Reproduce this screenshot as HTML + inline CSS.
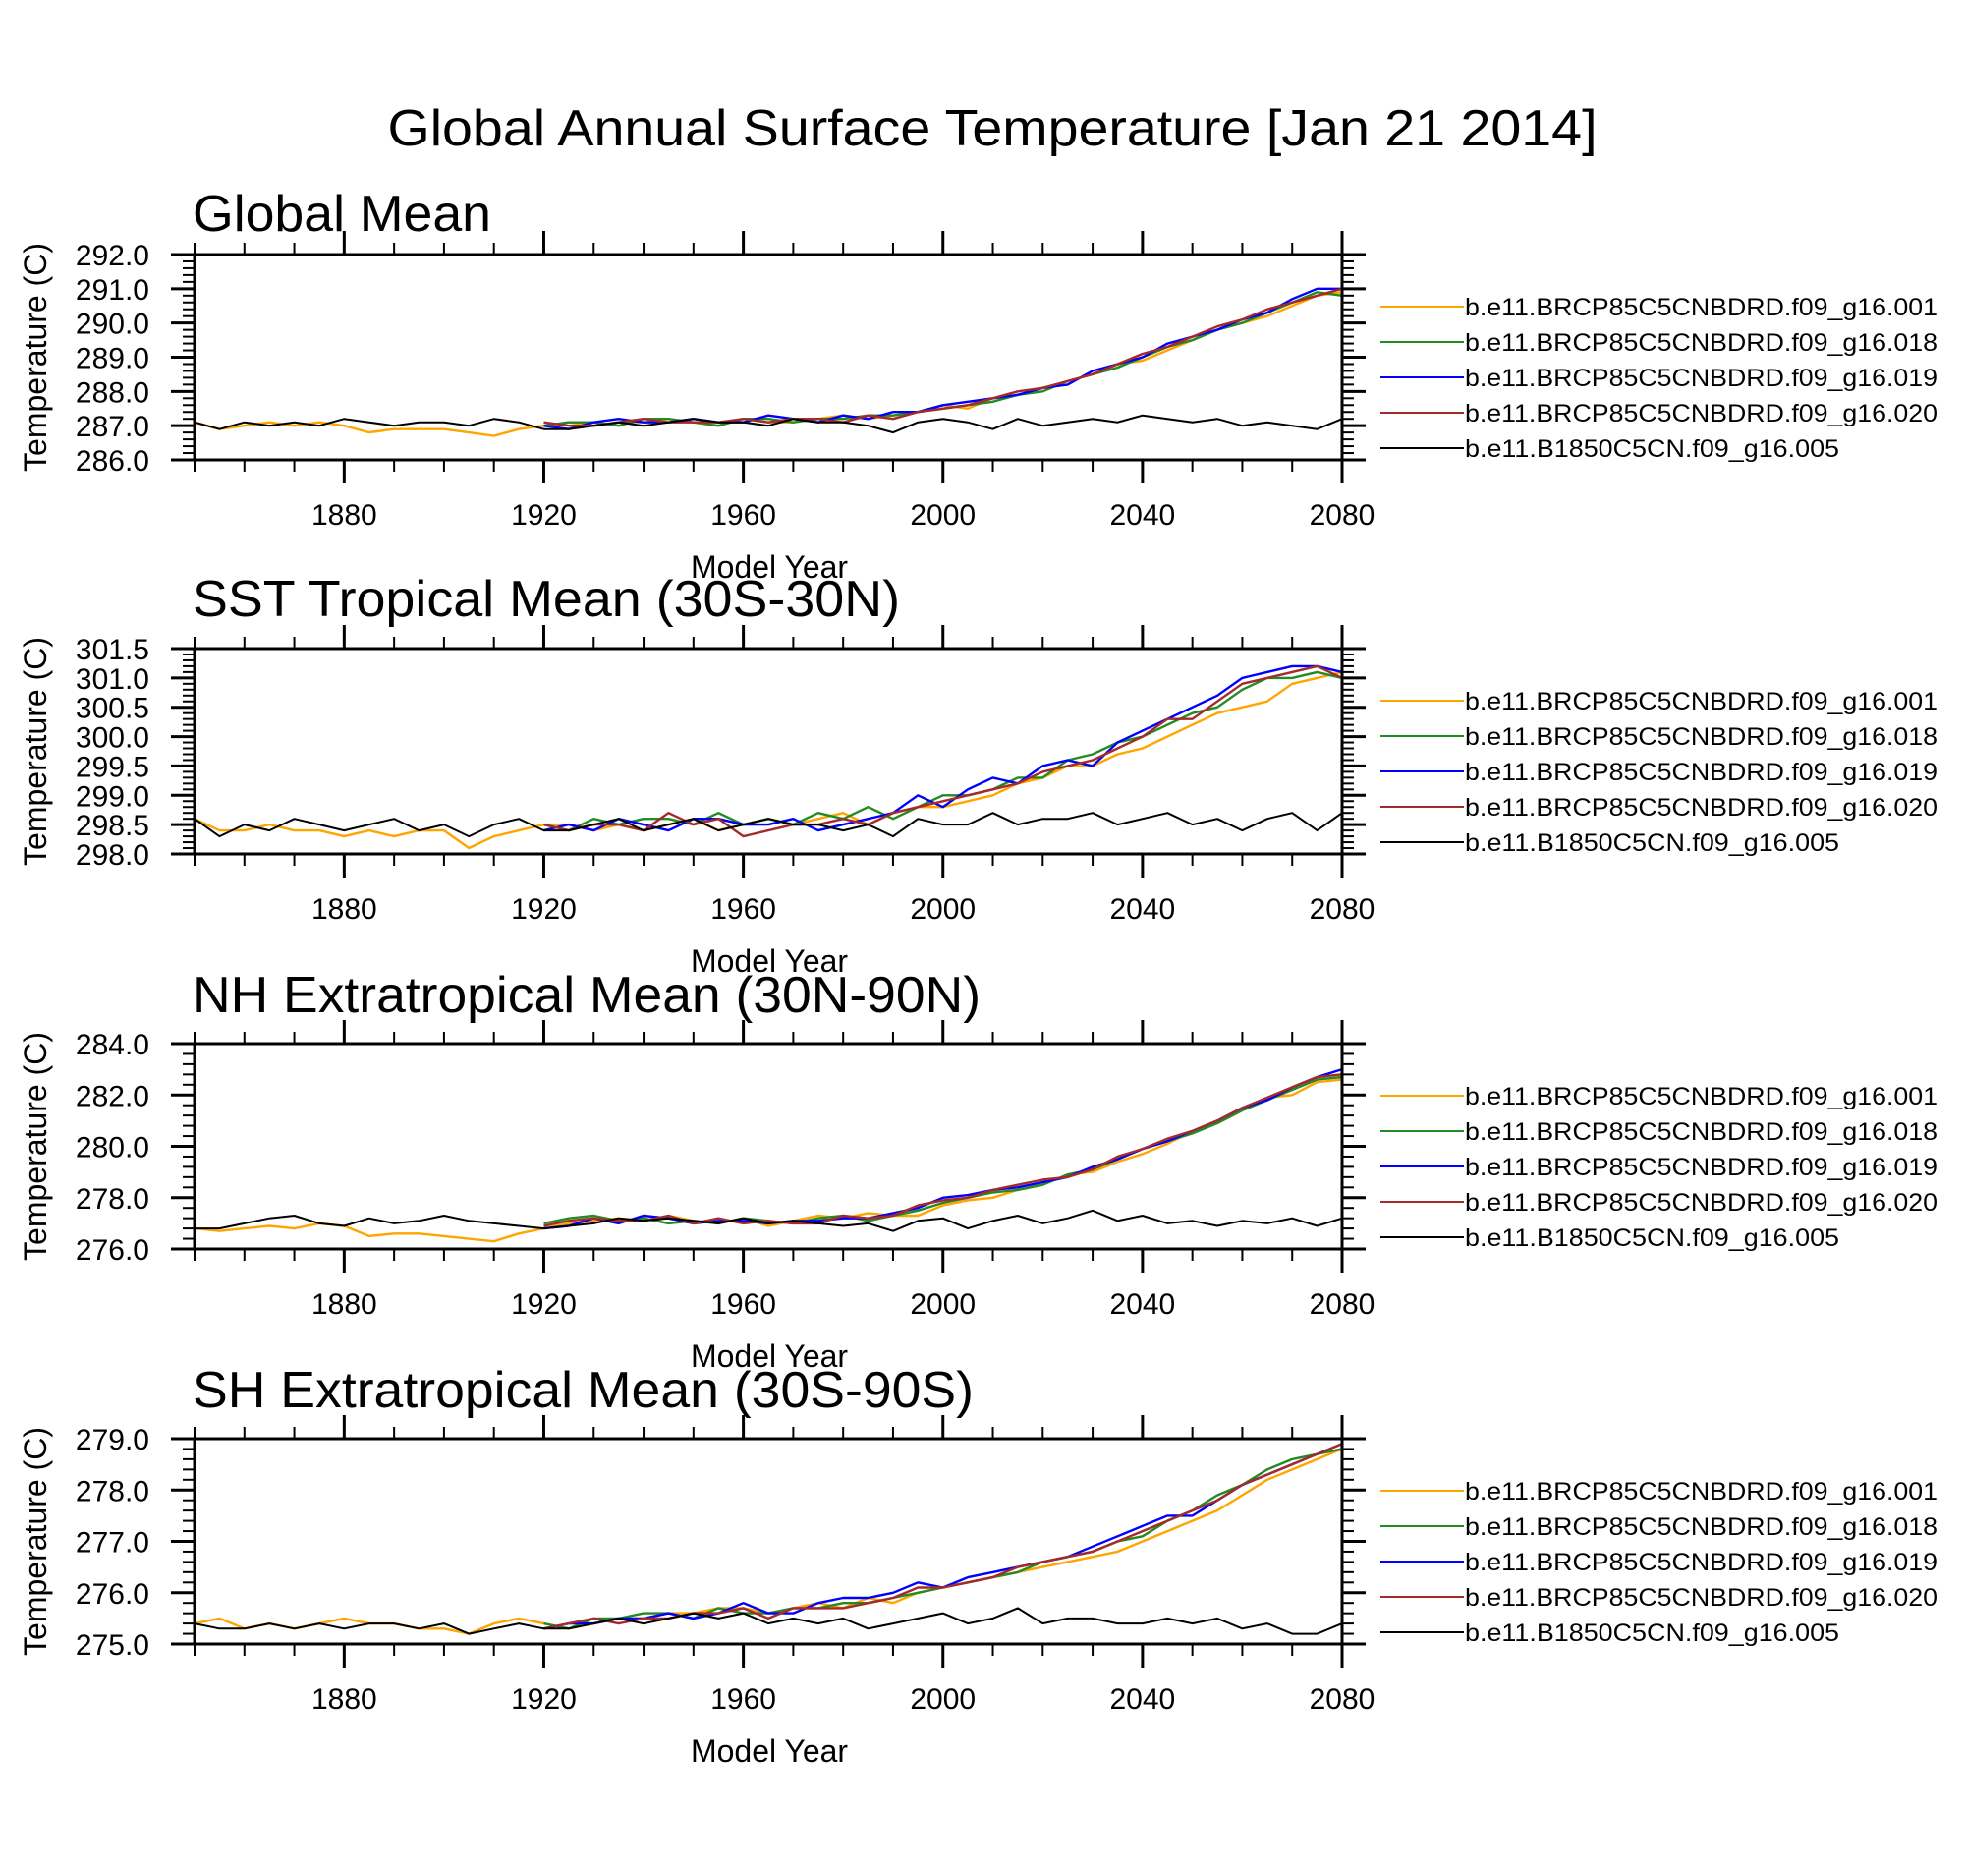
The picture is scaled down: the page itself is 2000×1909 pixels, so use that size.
<!DOCTYPE html>
<html><head><meta charset="utf-8"><style>
html,body{margin:0;padding:0;background:#fff;}
svg{display:block;font-family:"Liberation Sans",Arial,sans-serif;}
</style></head><body>
<svg id="chart" xmlns="http://www.w3.org/2000/svg" width="2000" height="1909" viewBox="0 0 2000 1909">
<rect x="0" y="0" width="2000" height="1909" fill="#fff"/>
<text x="1010" y="148" font-size="52" text-anchor="middle" textLength="1231" lengthAdjust="spacingAndGlyphs">Global Annual Surface Temperature [Jan 21 2014]</text>
</svg>
<script>
const YEARS_FULL = [1850,1855,1860,1865,1870,1875,1880,1885,1890,1895,1900,1905,1910,1915,1920,1925,1930,1935,1940,1945,1950,1955,1960,1965,1970,1975,1980,1985,1990,1995,2000,2005,2010,2015,2020,2025,2030,2035,2040,2045,2050,2055,2060,2065,2070,2075,2080];
const YEARS_RCP = [1920,1925,1930,1935,1940,1945,1950,1955,1960,1965,1970,1975,1980,1985,1990,1995,2000,2005,2010,2015,2020,2025,2030,2035,2040,2045,2050,2055,2060,2065,2070,2075,2080];
const X_TICK_LABELS = [1880,1920,1960,2000,2040,2080];
const LEGEND_LABELS = ["b.e11.BRCP85C5CNBDRD.f09_g16.001","b.e11.BRCP85C5CNBDRD.f09_g16.018","b.e11.BRCP85C5CNBDRD.f09_g16.019","b.e11.BRCP85C5CNBDRD.f09_g16.020","b.e11.B1850C5CN.f09_g16.005"];
const PANEL_TITLES = ["Global Mean","SST Tropical Mean (30S-30N)","NH Extratropical Mean (30N-90N)","SH Extratropical Mean (30S-90S)"];
const Y_MIN = [286,298,276,275];
const Y_MAX = [292,301.5,284,279];
const Y_MAJOR = [1,0.5,2,1];
const Y_MINOR = [0.2,0.1,0.4,0.2];

const P1_BLACK = [287.1,286.9,287.1,287.0,287.1,287.0,287.2,287.1,287.0,287.1,287.1,287.0,287.2,287.1,286.9,286.9,287.0,287.1,287.0,287.1,287.2,287.1,287.1,287.0,287.2,287.1,287.1,287.0,286.8,287.1,287.2,287.1,286.9,287.2,287.0,287.1,287.2,287.1,287.3,287.2,287.1,287.2,287.0,287.1,287.0,286.9,287.2];
const P1_ORANGE = [287.1,286.9,287.0,287.1,287.0,287.1,287.0,286.8,286.9,286.9,286.9,286.8,286.7,286.9,287.0,287.1,287.0,287.1,287.1,287.2,287.1,287.0,287.2,287.1,287.1,287.2,287.3,287.2,287.3,287.4,287.6,287.5,287.8,287.9,288.1,288.3,288.5,288.8,288.9,289.2,289.5,289.8,290.0,290.2,290.5,290.8,290.9];
const P1_GREEN = [287.0,287.1,287.1,287.0,287.2,287.2,287.1,287.0,287.2,287.2,287.1,287.2,287.2,287.3,287.3,287.4,287.5,287.6,287.7,287.9,288.0,288.3,288.5,288.7,289.0,289.3,289.5,289.8,290.0,290.3,290.6,290.9,290.8];
const P1_BLUE = [287.0,286.9,287.1,287.2,287.1,287.1,287.2,287.1,287.1,287.3,287.2,287.1,287.3,287.2,287.4,287.4,287.6,287.7,287.8,287.9,288.1,288.2,288.6,288.8,289.0,289.4,289.6,289.8,290.1,290.3,290.7,291.0,291.0];
const P1_RED = [287.1,287.0,287.0,287.1,287.2,287.1,287.1,287.1,287.2,287.1,287.2,287.2,287.1,287.3,287.2,287.4,287.5,287.6,287.8,288.0,288.1,288.3,288.5,288.8,289.1,289.3,289.6,289.9,290.1,290.4,290.6,290.8,291.0];

const P2_BLACK = [298.6,298.3,298.5,298.4,298.6,298.5,298.4,298.5,298.6,298.4,298.5,298.3,298.5,298.6,298.4,298.4,298.5,298.6,298.4,298.5,298.6,298.4,298.5,298.6,298.5,298.5,298.4,298.5,298.3,298.6,298.5,298.5,298.7,298.5,298.6,298.6,298.7,298.5,298.6,298.7,298.5,298.6,298.4,298.6,298.7,298.4,298.7];
const P2_ORANGE = [298.6,298.4,298.4,298.5,298.4,298.4,298.3,298.4,298.3,298.4,298.4,298.1,298.3,298.4,298.5,298.5,298.4,298.5,298.4,298.5,298.6,298.4,298.5,298.6,298.5,298.6,298.7,298.5,298.7,298.8,298.8,298.9,299.0,299.2,299.3,299.5,299.5,299.7,299.8,300.0,300.2,300.4,300.5,300.6,300.9,301.0,301.1];
const P2_GREEN = [298.5,298.4,298.6,298.5,298.6,298.6,298.5,298.7,298.5,298.6,298.5,298.7,298.6,298.8,298.6,298.8,299.0,299.0,299.1,299.3,299.3,299.6,299.7,299.9,300.0,300.2,300.4,300.5,300.8,301.0,301.0,301.1,301.0];
const P2_BLUE = [298.4,298.5,298.4,298.6,298.5,298.4,298.6,298.6,298.5,298.5,298.6,298.4,298.5,298.6,298.7,299.0,298.8,299.1,299.3,299.2,299.5,299.6,299.5,299.9,300.1,300.3,300.5,300.7,301.0,301.1,301.2,301.2,301.1];
const P2_RED = [298.5,298.4,298.5,298.5,298.4,298.7,298.5,298.6,298.3,298.4,298.5,298.5,298.6,298.5,298.7,298.8,298.9,299.0,299.1,299.2,299.4,299.5,299.6,299.8,300.0,300.3,300.3,300.6,300.9,301.0,301.1,301.2,301.0];

const P3_BLACK = [276.8,276.8,277.0,277.2,277.3,277.0,276.9,277.2,277.0,277.1,277.3,277.1,277.0,276.9,276.8,276.9,277.0,277.2,277.1,277.2,277.1,277.0,277.2,277.0,277.1,277.0,276.9,277.0,276.7,277.1,277.2,276.8,277.1,277.3,277.0,277.2,277.5,277.1,277.3,277.0,277.1,276.9,277.1,277.0,277.2,276.9,277.2];
const P3_ORANGE = [276.8,276.7,276.8,276.9,276.8,277.0,276.9,276.5,276.6,276.6,276.5,276.4,276.3,276.6,276.8,277.0,277.1,277.2,277.1,277.3,277.1,277.0,277.2,276.9,277.1,277.3,277.2,277.4,277.3,277.3,277.7,277.9,278.0,278.3,278.5,278.9,279.0,279.4,279.7,280.1,280.6,280.9,281.4,281.9,282.0,282.5,282.6];
const P3_GREEN = [277.0,277.2,277.3,277.1,277.2,277.0,277.1,277.0,277.2,277.1,277.0,277.2,277.3,277.1,277.3,277.5,277.8,278.0,278.2,278.3,278.5,278.9,279.1,279.5,279.9,280.2,280.5,280.9,281.4,281.8,282.2,282.6,282.7];
const P3_BLUE = [276.8,276.9,277.2,277.0,277.3,277.2,277.0,277.1,277.1,277.0,277.1,277.1,277.2,277.2,277.4,277.6,278.0,278.1,278.3,278.4,278.6,278.8,279.2,279.5,279.9,280.2,280.6,281.0,281.5,281.8,282.3,282.7,283.0];
const P3_RED = [276.9,277.1,277.2,277.1,277.1,277.3,277.0,277.2,277.0,277.1,277.0,277.0,277.3,277.2,277.3,277.7,277.9,278.0,278.3,278.5,278.7,278.8,279.1,279.6,279.9,280.3,280.6,281.0,281.5,281.9,282.3,282.7,282.8];

const P4_BLACK = [275.4,275.3,275.3,275.4,275.3,275.4,275.3,275.4,275.4,275.3,275.4,275.2,275.3,275.4,275.3,275.3,275.4,275.5,275.4,275.5,275.6,275.5,275.6,275.4,275.5,275.4,275.5,275.3,275.4,275.5,275.6,275.4,275.5,275.7,275.4,275.5,275.5,275.4,275.4,275.5,275.4,275.5,275.3,275.4,275.2,275.2,275.4];
const P4_ORANGE = [275.4,275.5,275.3,275.4,275.3,275.4,275.5,275.4,275.4,275.3,275.3,275.2,275.4,275.5,275.4,275.3,275.4,275.5,275.5,275.6,275.6,275.7,275.7,275.6,275.7,275.8,275.7,275.9,275.8,276.0,276.1,276.2,276.3,276.4,276.5,276.6,276.7,276.8,277.0,277.2,277.4,277.6,277.9,278.2,278.4,278.6,278.8];
const P4_GREEN = [275.4,275.3,275.5,275.5,275.6,275.6,275.5,275.7,275.6,275.6,275.7,275.7,275.8,275.8,275.9,276.0,276.1,276.2,276.3,276.4,276.6,276.7,276.8,277.0,277.1,277.4,277.6,277.9,278.1,278.4,278.6,278.7,278.8];
const P4_BLUE = [275.3,275.4,275.4,275.5,275.5,275.6,275.5,275.6,275.8,275.6,275.6,275.8,275.9,275.9,276.0,276.2,276.1,276.3,276.4,276.5,276.6,276.7,276.9,277.1,277.3,277.5,277.5,277.8,278.1,278.3,278.5,278.7,278.9];
const P4_RED = [275.3,275.4,275.5,275.4,275.5,275.5,275.6,275.6,275.7,275.5,275.7,275.7,275.7,275.8,275.9,276.1,276.1,276.2,276.3,276.5,276.6,276.7,276.8,277.0,277.2,277.4,277.6,277.8,278.1,278.3,278.5,278.7,278.9];

const SERIES = [
  [P1_ORANGE,P1_GREEN,P1_BLUE,P1_RED,P1_BLACK],
  [P2_ORANGE,P2_GREEN,P2_BLUE,P2_RED,P2_BLACK],
  [P3_ORANGE,P3_GREEN,P3_BLUE,P3_RED,P3_BLACK],
  [P4_ORANGE,P4_GREEN,P4_BLUE,P4_RED,P4_BLACK]
];
const COLORS = ["#ffa500","#228b22","#0000ff","#a52a2a","#000000"];
const SERIES_NAMES = ["run-001","run-018","run-019","run-020","control-005"];

const NS = "http://www.w3.org/2000/svg";
const svg = document.getElementById("chart");
const X0 = 198, X1 = 1366, PH = 209;
const TOPS = [259, 660, 1062, 1464];
const TITLE_W = [304, 720, 802, 795];
const TITLE_GAP = [24, 33, 32, 32];
const XMIN = 1850, XMAX = 2080;
function el(tag, attrs, parent){
  const e = document.createElementNS(NS, tag);
  for (const k in attrs) e.setAttribute(k, attrs[k]);
  (parent||svg).appendChild(e);
  return e;
}
function xs(y){ return X0 + (y - XMIN) / (XMAX - XMIN) * (X1 - X0); }

for (let p = 0; p < 4; p++){
  const top = TOPS[p], bot = top + PH;
  const ys = v => bot - (v - Y_MIN[p]) / (Y_MAX[p] - Y_MIN[p]) * PH;
  const g = el("g", {});
  
  

  const t = el("text", {x: 196, y: top - TITLE_GAP[p], "font-size": 52, textLength: TITLE_W[p], lengthAdjust: "spacingAndGlyphs"}, g);
  
  
  t.textContent = PANEL_TITLES[p];

  for (let s = 0; s < 5; s++){
    const arr = SERIES[p][s];
    const yrs = (s === 0 || s === 4) ? YEARS_FULL : YEARS_RCP;
    const pts = arr.map((v,i) => xs(yrs[i]).toFixed(1) + "," + ys(v).toFixed(1)).join(" ");
    const pl = el("polyline", {points: pts, fill: "none", stroke: COLORS[s], "stroke-width": s===4?2:2.4, "stroke-linejoin":"round"}, g);
    
    
  }

  const fr = el("rect", {x: X0, y: top, width: X1 - X0, height: PH, fill: "none", stroke: "#000", "stroke-width": 3}, g);
  
  

  for (let yr = 1850; yr <= 2080; yr += 10){
    const major = X_TICK_LABELS.indexOf(yr) >= 0;
    const L = major ? 24 : 12, x = xs(yr);
    const a = el("line", {x1: x, x2: x, y1: top, y2: top - L, stroke: "#000", "stroke-width": major?3:2}, g);
    
    
    const b = el("line", {x1: x, x2: x, y1: bot, y2: bot + L, stroke: "#000", "stroke-width": major?3:2}, g);
    
    
  }
  X_TICK_LABELS.forEach(yr => {
    const tl = el("text", {x: xs(yr), y: bot + 66, "font-size": 30, "text-anchor": "middle"}, g);
    
    
    tl.textContent = yr;
  });

  const nMin = Math.round((Y_MAX[p] - Y_MIN[p]) / Y_MINOR[p]);
  const ratio = Math.round(Y_MAJOR[p] / Y_MINOR[p]);
  for (let i = 0; i <= nMin; i++){
    const v = Y_MIN[p] + i * Y_MINOR[p];
    const major = i % ratio === 0, L = major ? 24 : 12, y = ys(v);
    const a = el("line", {x1: X0, x2: X0 - L, y1: y, y2: y, stroke: "#000", "stroke-width": major?3:2}, g);
    
    
    const b = el("line", {x1: X1, x2: X1 + L, y1: y, y2: y, stroke: "#000", "stroke-width": major?3:2}, g);
    
    
    if (major){
      const tl = el("text", {x: 152, y: y + 11, "font-size": 30, "text-anchor": "end"}, g);
      
      
      tl.textContent = v.toFixed(1);
    }
  }

  const yt = el("text", {x: 0, y: 0, "font-size": 32, "text-anchor": "middle", transform: "translate(47," + (top + PH/2) + ") rotate(-90)"}, g);
  
  
  yt.textContent = "Temperature (C)";

  const xt = el("text", {x: 783, y: bot + 120, "font-size": 32, "text-anchor": "middle"}, g);
  
  
  xt.textContent = "Model Year";

  for (let s = 0; s < 5; s++){
    const ly = top + 53 + s * 36;
    const lg = el("g", {}, g);
    
    
    el("line", {x1: 1405, x2: 1490, y1: ly, y2: ly, stroke: COLORS[s], "stroke-width": 2}, lg);
    const lt = el("text", {x: 1491, y: ly + 9, "font-size": 25, textLength: s===4?381:481, lengthAdjust: "spacingAndGlyphs"}, lg);
    lt.textContent = LEGEND_LABELS[s];
  }
}
</script>
</body></html>
